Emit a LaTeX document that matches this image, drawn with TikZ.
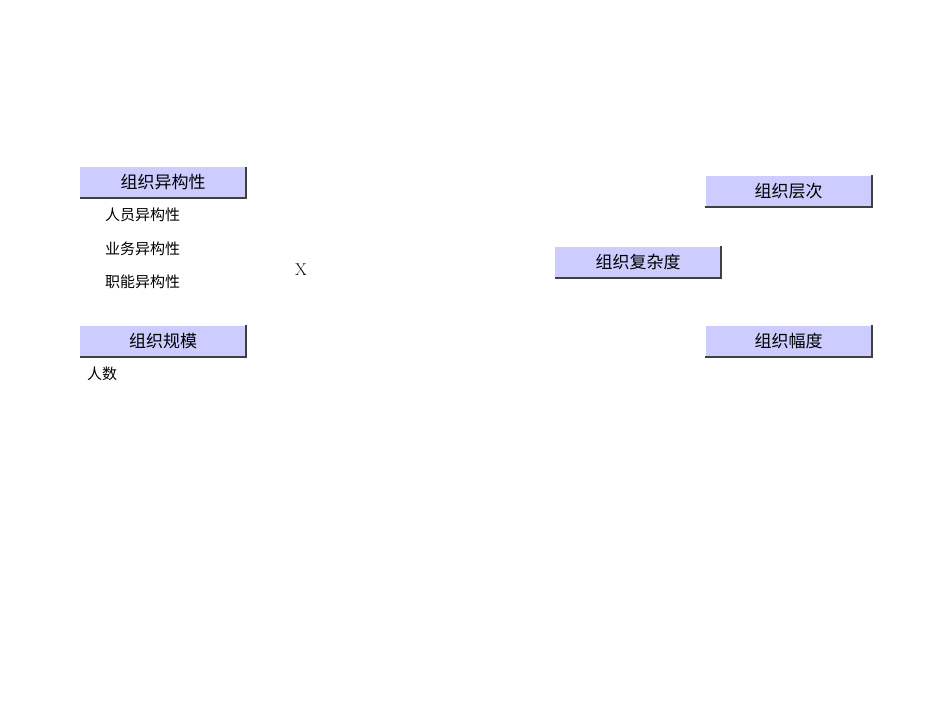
\documentclass[tikz,border=0pt]{standalone}
\usepackage{fontspec}
\newfontfamily\cjk{Noto Sans CJK SC}
\begin{document}
\begin{tikzpicture}[x=1pt,y=-1pt,
  hbox/.style={fill={rgb,255:red,204;green,204;blue,255},minimum width=166pt,minimum height=31pt,inner sep=0pt,font=\cjk\fontsize{17}{20}\selectfont},
  item/.style={anchor=west,inner sep=0pt,font=\cjk\fontsize{15}{18}\selectfont}]
\useasboundingbox (0,0) rectangle (950,713);
\newcommand\shbox[3]{%
  \node[hbox] (#1) at #2 {#3};
  \draw[line width=1.6pt,black!75] (#1.north east) -- (#1.south east) -- (#1.south west);}
\shbox{het}{(163,182.5)}{组织异构性}
\shbox{scale}{(163,341)}{组织规模}
\shbox{level}{(788.5,191)}{组织层次}
\shbox{cplx}{(638,262)}{组织复杂度}
\shbox{span}{(788.5,341)}{组织幅度}
\node[item] (i1) at (105,215) {人员异构性};
\node[item] (i2) at (105,249) {业务异构性};
\node[item] (i3) at (105,282) {职能异构性};
\node[item] (i4) at (87,374) {人数};
\node[font=\fontsize{17}{20}\selectfont] (x) at (301,270) {X};
\end{tikzpicture}
\end{document}
